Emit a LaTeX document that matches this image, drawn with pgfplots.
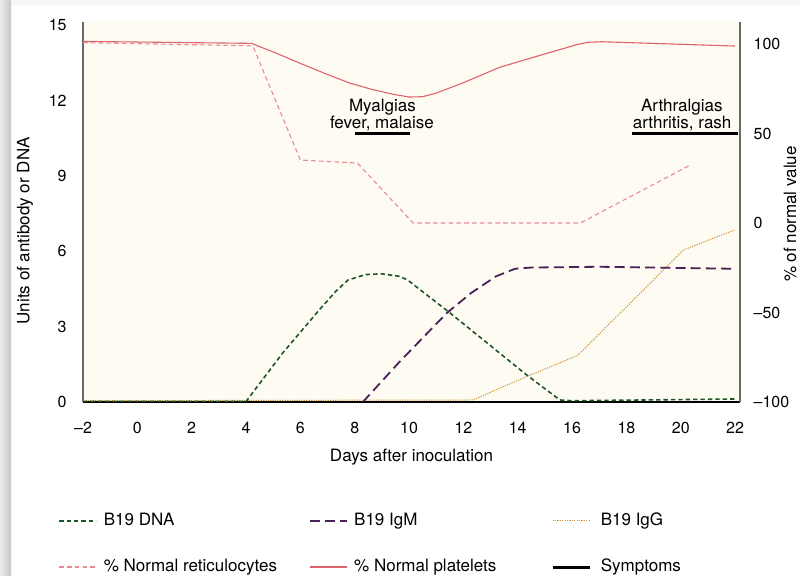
\documentclass[border=0pt]{standalone}
\usepackage{pgfplots}
\pgfplotsset{compat=1.18}
\usepackage{fontspec}
\setmainfont{TeX Gyre Heros}
\definecolor{cream}{RGB}{254,251,242}
\definecolor{dnagreen}{RGB}{30,85,40}
\definecolor{igmpurple}{RGB}{75,32,88}
\definecolor{iggtan}{RGB}{201,148,58}
\definecolor{reticpink}{RGB}{232,140,150}
\definecolor{platred}{RGB}{222,100,108}
\definecolor{axgray}{RGB}{105,105,105}
\newcommand{\tickfont}{\fontsize{8bp}{9.6bp}\selectfont}
\newcommand{\labfont}{\fontsize{8.5bp}{10bp}\selectfont}
\pgfplotsset{
  common/.style={
    scale only axis, width=328.5bp, height=190.15bp,
    at={(41.5bp,87bp)}, anchor=south west,
    xmin=-2, xmax=22.18,
    major tick length=0pt,
    tick label style={font=\tickfont},
    label style={font=\labfont},
    axis line style={line width=0.6bp},
    legend image code/.code={\draw[##1] (0bp,0bp) -- (18.5bp,0bp);},
  },
  dnas/.style={color=dnagreen, line width=0.8bp, dash pattern=on 2.2bp off 1.5bp, no marks, sharp plot},
  igms/.style={color=igmpurple, line width=0.9bp, dash pattern=on 5bp off 2.6bp, no marks, sharp plot},
  iggs/.style={color=iggtan, line width=0.5bp, dash pattern=on 0.6bp off 0.6bp, no marks, sharp plot},
  retics/.style={color=reticpink, line width=0.55bp, dash pattern=on 2.3bp off 1.6bp, no marks, sharp plot},
  plats/.style={color=platred, line width=0.55bp, no marks, sharp plot},
  syms/.style={color=black, line width=1.5bp, no marks, sharp plot},
}
\begin{document}
\begin{tikzpicture}
\useasboundingbox (0,0) rectangle (400bp,288bp);
\clip (0,0) rectangle (400bp,288bp);
\fill[white] (0,0) rectangle (400bp,288bp);
\fill[gray!6] (0,285bp) rectangle (400bp,288bp);
\shade[left color=gray!15, right color=gray!45] (0,0) rectangle (5.5bp,288bp);

\begin{axis}[common,
  ymin=0, ymax=15.13,
  axis x line*=bottom, axis y line*=left,
  x axis line style={-,black}, y axis line style={-,axgray},
  axis background/.style={fill=cream},
  xtick={-2,0,2,4,6,8,10,12,14,16,18,20,22},
  xticklabels={–2,0,2,4,6,8,10,12,14,16,18,20,22},
  ytick={0,3,6,9,12,15}, yticklabels={0,3,6,9,12,15},
  xticklabel style={yshift=-6.5bp},
  yticklabel style={xshift=-4.7bp},
  xlabel={Days after inoculation}, ylabel={Units of antibody or DNA},
  xlabel style={at={(axis description cs:0.5,-0.145)}, anchor=center},
  ylabel style={at={(axis description cs:-0.0883,0.45)}, anchor=center},
]
\addplot[iggs] coordinates {(-2,0.05)(12.35,0.08)(14.3,1.0)(16.2,1.85)(18.2,4.0)(20.1,6.05)(22,6.85)};
\addplot[dnas] coordinates {(-2,0.02)(4,0.02)(5.35,1.95)(6.7,3.67)(7.3,4.4)(7.75,4.85)(8.4,5.07)(9.0,5.1)(9.65,5.0)(9.95,4.85)(11.5,3.55)(14.3,1.1)(15.55,0.08)(16,0.05)(22,0.12)};
\addplot[igms] coordinates {(8.3,0)(9.65,1.6)(11.4,3.55)(12.3,4.35)(13.2,5.0)(13.9,5.3)(14.5,5.35)(17,5.38)(22,5.3)};
\end{axis}

\begin{axis}[common,
  ymin=-100, ymax=112.5,
  axis x line=none, xtick=\empty,
  axis y line*=right,
  y axis line style={-,axgray},
  ytick={-100,-50,0,50,100}, yticklabels={–100,–50,0,50,100},
  yticklabel style={xshift=3.3bp},
  ylabel={\% of normal value},
  ylabel style={at={(axis description cs:1.066,0.494)}, anchor=north, inner sep=0pt},
  legend columns=3, legend cell align=left,
  legend style={at={(axis description cs:0,0)}, anchor=north west,
    xshift=-12.5bp, yshift=-55.3bp, draw=none, fill=none, inner sep=0pt,
    font=\labfont, nodes={inner sep=0pt}, row sep=15.3bp,
    /tikz/every odd column/.append style={column sep=3.4bp}},
]
\addlegendimage{dnas}\addlegendentry{\makebox[102.4bp][l]{B19 DNA}}
\addlegendimage{igms}\addlegendentry{\makebox[98.4bp][l]{B19 IgM}}
\addlegendimage{iggs}\addlegendentry{\hspace*{1.5bp}B19 IgG}
\addlegendimage{retics, line width=0.75bp}\addlegendentry{\makebox[102.4bp][l]{\% Normal reticulocytes}}
\addlegendimage{plats, line width=0.75bp}\addlegendentry{\makebox[98.4bp][l]{\% Normal platelets}}
\addlegendimage{syms}\addlegendentry{\hspace*{1.5bp}Symptoms}
\addplot[retics, forget plot] coordinates {(-2,100.8)(4.25,99)(6.0,35.2)(8.1,33.5)(10.15,0)(16.3,0)(20.3,32)};
\addplot[plats, forget plot] coordinates {(-2,101.5)(4.2,100.4)(5.1,95)(6,89.2)(7,83)(7.8,78.3)(8.6,74.8)(9.4,72)(10,70.4)(10.5,70.6)(11,72.6)(12,78.4)(13.33,87)(15,94.5)(16.2,99.8)(16.6,101)(17.1,101.3)(22,98.9)};
\addplot[syms, forget plot] coordinates {(8.01,50)(10.04,50)};
\addplot[syms, forget plot] coordinates {(18.19,50)(22.09,50)};
\node[anchor=base, font=\labfont, inner sep=0pt] at (axis cs:9.02,62.2) {Myalgias};
\node[anchor=base, font=\labfont, inner sep=0pt] at (axis cs:9.0,52.9) {fever, malaise};
\node[anchor=base, font=\labfont, inner sep=0pt] at (axis cs:20.04,62.2) {Arthralgias};
\node[anchor=base, font=\labfont, inner sep=0pt] at (axis cs:20.05,52.9) {arthritis, rash};
\end{axis}
\end{tikzpicture}
\end{document}
